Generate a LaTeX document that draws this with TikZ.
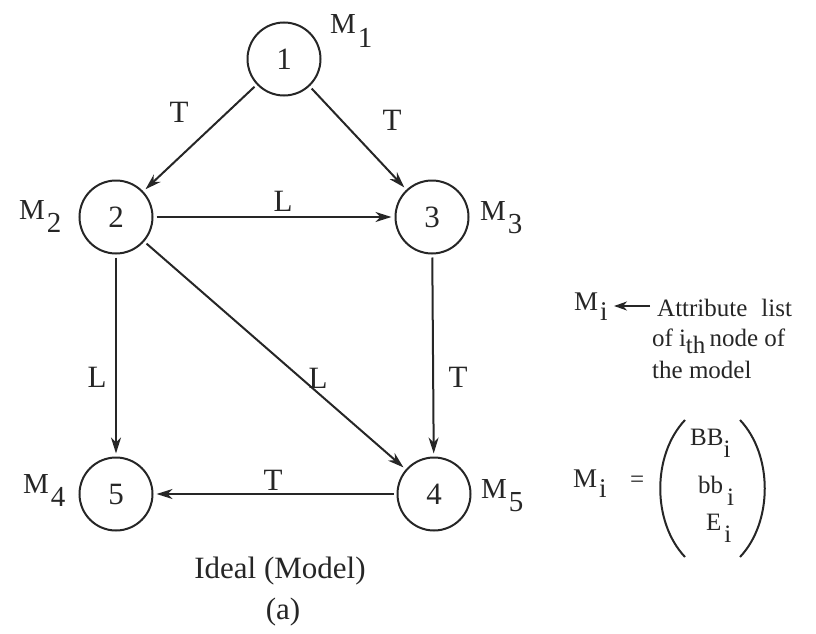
\documentclass[tikz,border=0pt]{standalone}
\usepackage{fontspec}
\setmainfont{Liberation Serif}
\usetikzlibrary{arrows.meta}
\newcommand\Mlab[2][0.45em]{M\kern2pt\raisebox{-#1}{#2}}
\begin{document}
\begin{tikzpicture}[x=1pt,y=-1pt,
  state/.style={circle, draw=black!85, line width=2pt, minimum size=73pt, inner sep=0pt,
    font=\fontsize{31}{31}\selectfont, text=black!85},
  edge/.style={line width=2pt, draw=black!85, -{Stealth[length=16pt,width=10pt,inset=5pt]},
    shorten >=3pt, shorten <=3pt},
  lab/.style={font=\fontsize{31}{31}\selectfont, text=black!85, inner sep=0pt},
  mlab/.style={font=\fontsize{29}{29}\selectfont, text=black!85, inner sep=0pt, anchor=base west},
  note/.style={font=\fontsize{25}{25}\selectfont, text=black!85, inner sep=0pt, anchor=base west},
  ent/.style={font=\fontsize{25}{25}\selectfont, text=black!85, inner sep=0pt, anchor=base west}]
\useasboundingbox (0,0) rectangle (816,634);

% nodes
\node[state] (n1) at (284,59) {1};
\node[state] (n2) at (116,217) {2};
\node[state] (n3) at (432,217) {3};
\node[state] (n5) at (116,494) {5};
\node[state] (n4) at (434,494) {4};

% attribute labels
\node[mlab] (m1) at (330,34) {\Mlab{1}};
\node[mlab] (m2) at (19,219) {\Mlab{2}};
\node[mlab] (m3) at (480,220) {\Mlab{3}};
\node[mlab] (m4) at (23,493) {\Mlab{4}};
\node[mlab] (m5) at (481,498) {\Mlab{5}};

% edges
\draw[edge] (n1) -- (n2);
\draw[edge] (n1) -- (n3);
\draw[edge] (n2) -- (n3);
\draw[edge] (n2) -- (n5);
\draw[edge] (n2) -- (n4);
\draw[edge] (n3) -- (n4);
\draw[edge] (n4) -- (n5);

% edge labels
\node[lab] (t12) at (179,112) {T};
\node[lab] (t13) at (392,120) {T};
\node[lab] (l23) at (283,201) {L};
\node[lab] (l25) at (97,377) {L};
\node[lab] (l24) at (318,378) {L};
\node[lab] (t34) at (458,377) {T};
\node[lab] (t45) at (273,480) {T};

% captions
\node[lab] (cap) at (280,571) {Ideal (Model)};
\node[lab] (capa) at (283,612) {(a)};

% legend
\node[note, font=\fontsize{27}{27}\selectfont] (mi) at (574,310) {\Mlab[0.4em]{i}};
\coordinate (arrS) at (650,306);
\coordinate (arrE) at (614,306);
\draw[line width=2pt, draw=black!85, -{Stealth[length=13pt,width=9pt,inset=4pt]}] (arrS) -- (arrE);
\node[note] (attr) at (657,316) {Attribute\hspace{14pt}list};
\node[note] (ofi) at (652,346) {of\hspace{6pt}i\raisebox{-0.3em}{th}\,node of};
\node[note] (themodel) at (652,378) {the model};

% matrix definition
\node[note, font=\fontsize{27}{27}\selectfont] (mi2) at (573,487) {\Mlab[0.4em]{i}};
\node[note] (eq) at (630,487) {=};
\draw[line width=2pt, draw=black!85] (685,420) .. controls (652,455) and (652,522) .. (685,557);
\draw[line width=2pt, draw=black!85] (740,420) .. controls (773,455) and (773,522) .. (740,557);
\node[ent] (bb1) at (690,445) {BB\raisebox{-0.5em}{i}};
\node[ent] (bb2) at (698,493) {bb\kern4pt\raisebox{-0.5em}{i}};
\node[ent] (ee) at (706,530) {E\kern3pt\raisebox{-0.5em}{i}};
\end{tikzpicture}
\end{document}
